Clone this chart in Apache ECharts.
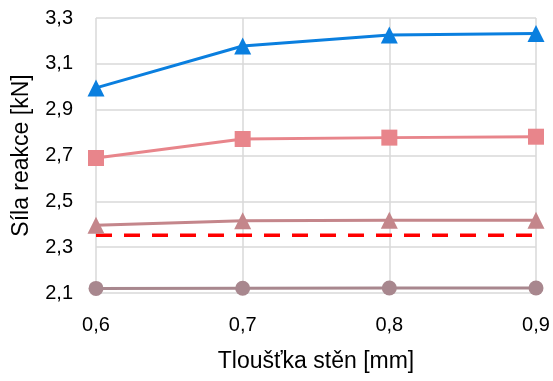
<!DOCTYPE html>
<html><head><meta charset="utf-8">
<script src="https://cdn.jsdelivr.net/npm/echarts@6/dist/echarts.min.js"></script>
<style>html,body{margin:0;padding:0;background:#fff}#c{width:553px;height:381px}</style>
</head><body><div id="c"></div>
<script>
const thickness = [0.6, 0.7, 0.8, 0.9];
const blueTri = [2.995, 3.178, 3.226, 3.232];
const pinkSq = [2.689, 2.772, 2.778, 2.782];
const mauveTri = [2.396, 2.415, 2.417, 2.418];
const redDash = [2.352, 2.352, 2.352, 2.352];
const greyCirc = [2.12, 2.121, 2.122, 2.122];
const xTitle = 'Tloušťka stěn [mm]';
const yTitle = 'Síla reakce [kN]';
const FONT = 'Liberation Sans';
const pair = arr => thickness.map((x, i) => [x, arr[i]]);
const comma = v => v.toFixed(1).replace('.', ',');
function s(data, color, symbol, size, extra) {
  return Object.assign({
    type: 'line', data: pair(data), symbol: symbol, symbolSize: size,
    lineStyle: { color: color, width: 3 }, itemStyle: { color: color },
    animation: false, z: 3
  }, extra || {});
}
const chart = echarts.init(document.getElementById('c'));
chart.setOption({
  backgroundColor: '#fff',
  grid: { left: 96, right: 17, top: 18, bottom: 88 },
  xAxis: {
    type: 'value', min: 0.6, max: 0.9, interval: 0.1,
    name: xTitle, nameLocation: 'middle', nameGap: 57,
    nameTextStyle: { fontFamily: FONT, fontSize: 23, color: '#000' },
    axisLine: { show: false }, axisTick: { show: false },
    axisLabel: { formatter: comma, fontFamily: FONT, fontSize: 20, color: '#000', margin: 22 },
    splitLine: { show: true, lineStyle: { color: '#d9d9d9', width: 1.5 } }
  },
  yAxis: {
    type: 'value', min: 2.1, max: 3.3, interval: 0.2,
    name: yTitle, nameLocation: 'middle', nameGap: 63,
    nameTextStyle: { fontFamily: FONT, fontSize: 23, color: '#000' },
    axisLine: { show: false }, axisTick: { show: false },
    axisLabel: { formatter: comma, fontFamily: FONT, fontSize: 20, color: '#000', margin: 23 },
    splitLine: { show: true, lineStyle: { color: '#d9d9d9', width: 1.5 } }
  },
  series: [
    s(greyCirc, '#a8878e', 'circle', 15),
    s(redDash, '#ff0000', 'none', 0, { lineStyle: { color: '#ff0000', width: 3.5, type: [16, 12] } }),
    s(mauveTri, '#c4868b', 'triangle', 17),
    s(pinkSq, '#e8858b', 'rect', 16),
    s(blueTri, '#0a7fdf', 'triangle', 17)
  ]
});
</script></body></html>
